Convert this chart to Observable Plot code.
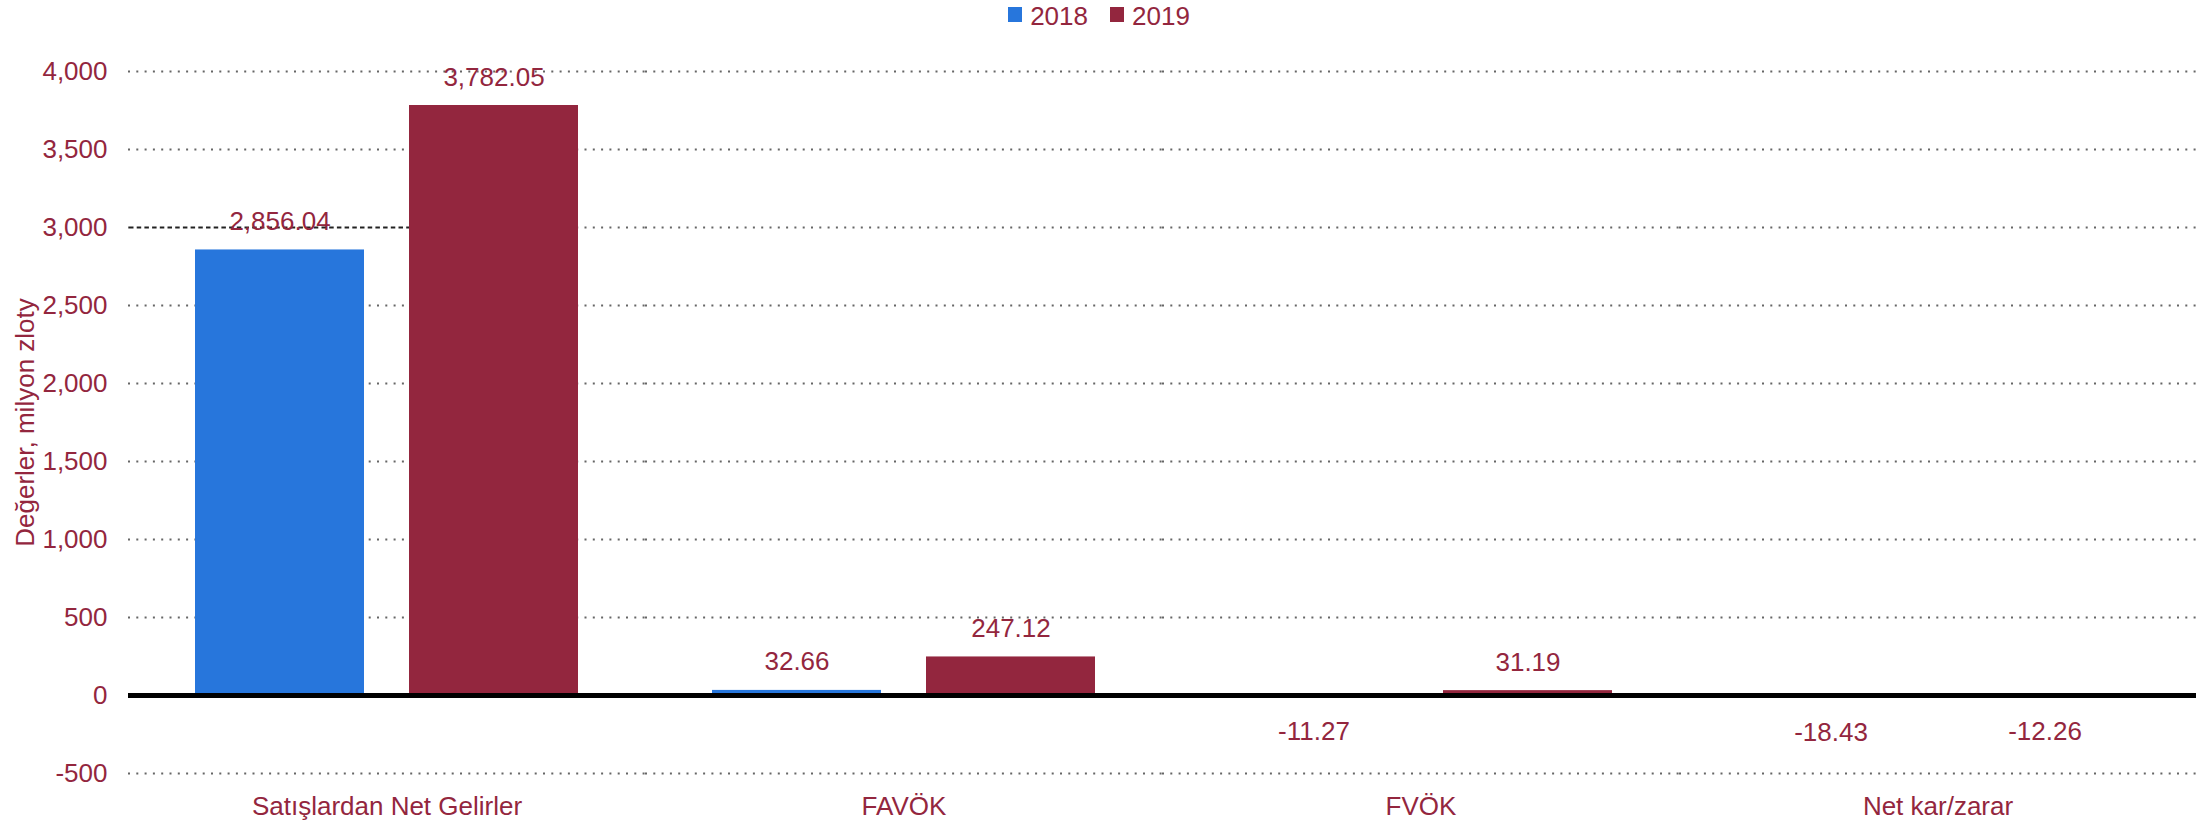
<!DOCTYPE html>
<html>
<head>
<meta charset="utf-8">
<script src="https://cdn.jsdelivr.net/npm/d3@7"></script>
<script src="https://cdn.jsdelivr.net/npm/@observablehq/plot@0.6"></script>
<style>
html, body { margin: 0; padding: 0; background: #fff; }
body { width: 2212px; height: 825px; overflow: hidden; font-family: "Liberation Sans", Arial, sans-serif; }
#legend { height: 30px; display: flex; justify-content: center; align-items: flex-start; font-size: 26px; color: #93263e; padding-right: 14px; }
.item { display: flex; align-items: flex-start; margin: 0 11px; }
.sw { width: 14px; height: 15px; margin-top: 7px; margin-right: 8px; }
.lab { height: 30px; line-height: 32px; }
#chart svg { display: block; }
</style>
</head>
<body>
<div id="legend"></div>
<div id="chart"></div>
<script>
const categories = ["Satışlardan Net Gelirler", "FAVÖK", "FVÖK", "Net kar/zarar"];
const years = ["2018", "2019"];
const values2018 = [2856.04, 32.66, -11.27, -18.43];
const values2019 = [3782.05, 247.12, 31.19, -12.26];
const yTicks = [-500, 0, 500, 1000, 1500, 2000, 2500, 3000, 3500, 4000];
const colors = ["#2776dc", "#93263e"];
const textColor = "#93263e";
const yLabel = "Değerler, milyon zloty";
const highlightLevel = [{cat: categories[0], v: 3000, from: years[0], to: years[0]}];

const data = categories.flatMap((c, i) => [
  {cat: c, year: years[0], value: values2018[i]},
  {cat: c, year: years[1], value: values2019[i]}
]);

const fmtTick = d => d3.format(",")(d).replace("−", "-");
const fmtVal = d => d3.format(",.2f")(d).replace("−", "-");

// legend
const legend = document.getElementById("legend");
years.forEach((y, i) => {
  const it = document.createElement("div");
  it.className = "item";
  const sw = document.createElement("div");
  sw.className = "sw";
  sw.style.background = colors[i];
  const lab = document.createElement("div");
  lab.className = "lab";
  lab.textContent = y;
  it.appendChild(sw); it.appendChild(lab);
  legend.appendChild(it);
});

const chart = Plot.plot({
  width: 2212,
  height: 795,
  marginLeft: 128,
  marginRight: 16,
  marginTop: 41,
  marginBottom: 52,
  style: {fontFamily: "'Liberation Sans', Arial, sans-serif", fontSize: "26px", color: textColor, background: "#fff", overflow: "visible"},
  fx: {domain: categories, padding: 0, label: null},
  x: {domain: years, paddingInner: 0.209, paddingOuter: 0.307, axis: null},
  y: {domain: [-500, 4000]},
  color: {domain: years, range: colors},
  marks: [
    Plot.gridY(yTicks, {stroke: "#666", strokeOpacity: 1, strokeWidth: 1.8, strokeDasharray: "2,6.3"}),
    Plot.ruleY(highlightLevel, {fx: "cat", y: "v", x1: "from", x2: "to", insetLeft: -66, insetRight: -45, stroke: "#fff", strokeWidth: 3}),
    Plot.ruleY(highlightLevel, {fx: "cat", y: "v", x1: "from", x2: "to", insetLeft: -66, insetRight: -45, stroke: "#222", strokeWidth: 2.2, strokeDasharray: "4.5,3.2"}),
    Plot.axisY({ticks: yTicks, tickFormat: fmtTick, tickSize: 0, tickPadding: 21, label: yLabel, labelAnchor: "center", labelOffset: 113, labelArrow: "none", fill: textColor}),
    Plot.axisFx({anchor: "bottom", tickSize: 0, tickPadding: 23, label: null, fill: textColor}),
    Plot.barY(data, {fx: "cat", x: "year", y: "value", fill: "year"}),
    Plot.ruleY([0], {stroke: "#000", strokeWidth: 5}),
    Plot.text(data.filter(d => d.value >= 0), {fx: "cat", x: "year", y: "value", text: d => fmtVal(d.value), lineAnchor: "bottom", dy: -20, fill: textColor}),
    Plot.text(data.filter(d => d.value < 0), {fx: "cat", x: "year", y: "value", text: d => fmtVal(d.value), lineAnchor: "top", dy: 24, fill: textColor})
  ]
});
document.getElementById("chart").appendChild(chart);
</script>
</body>
</html>
